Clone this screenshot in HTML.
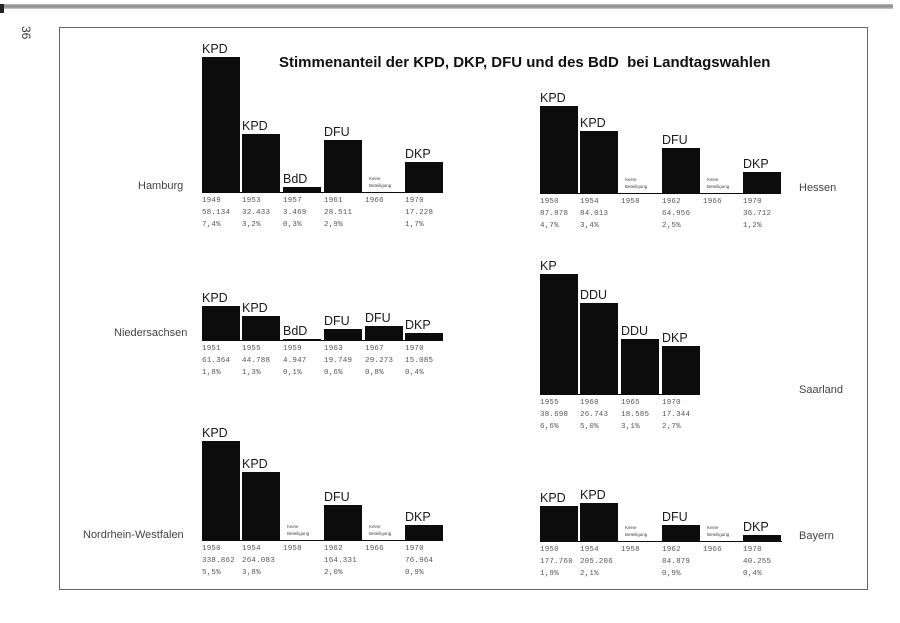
<!DOCTYPE html>
<html><head><meta charset="utf-8">
<style>
html,body{margin:0;padding:0;background:#fff;}
#p{position:relative;width:900px;height:623px;overflow:hidden;background:#fff;font-family:"Liberation Sans",sans-serif;}
.a{position:absolute;white-space:nowrap;}
.b{position:absolute;background:#0c0c0c;}
.l{position:absolute;font-size:12.5px;color:#1a1a1a;line-height:1;}
.d{position:absolute;font-family:"Liberation Mono",monospace;font-size:7.5px;color:#555;line-height:1;letter-spacing:0.2px;}
.k{position:absolute;font-size:4.5px;color:#444;line-height:1.5;}
.s{position:absolute;font-size:11px;color:#444;line-height:1;}
</style></head><body><div id="p">
<div class="a" style="left:0;top:4px;width:893px;height:5px;background:linear-gradient(#bbb,#888,#ccc);"></div>
<div class="a" style="left:0;top:4px;width:4px;height:9px;background:#222;"></div>
<div class="a" style="left:59px;top:27px;width:809px;height:563px;border:1.5px solid #666;box-sizing:border-box;"></div>
<div class="a" style="top:26px;font-size:12px;color:#333;transform:rotate(90deg);transform-origin:left top;left:33px;">36</div>
<div class="a" style="left:279px;top:54px;font-size:15px;font-weight:bold;color:#111;">Stimmenanteil der KPD, DKP, DFU und des BdD&nbsp; bei Landtagswahlen</div>
</div>
<script>
var P=document.getElementById('p');
function el(c,x,y,t,st){var e=document.createElement('div');e.className=c;e.style.left=x+'px';e.style.top=y+'px';if(st)e.style.cssText+=st;e.innerHTML=t;P.appendChild(e);return e;}
function chart(xs,base,bars,lbl){
 bars.forEach(function(b,i){
  var x=xs[i];
  if(b[1]===null){el('k',x+4,base-17,'Keine<br>Beteiligung');}
  else{var e=el('b',x,b[1],'');e.style.width='38px';e.style.height=(base-b[1])+'px';
   el('l',x,b[1]-14,b[0]);}
  el('d',x,base+5,b[2]);
  if(b[3])el('d',x,base+17,b[3]);
  if(b[4])el('d',x,base+29,b[4]);
 });
 el('s',lbl[0],lbl[1],lbl[2]);
}
var L=[202,242,283,324,365,405],R=[540,580,621,662,703,743];
chart(L,193,[['KPD',57,'1949','58.134','7,4%'],['KPD',134,'1953','32.433','3,2%'],['BdD',187,'1957','3.469','0,3%'],['DFU',140,'1961','28.511','2,9%'],['',null,'1966'],['DKP',162,'1970','17.228','1,7%']],[138,181,'Hamburg']);
chart(R,194,[['KPD',106,'1950','87.878','4,7%'],['KPD',131,'1954','84.013','3,4%'],['',null,'1958'],['DFU',148,'1962','64.956','2,5%'],['',null,'1966'],['DKP',172,'1970','36.712','1,2%']],[799,183,'Hessen']);
chart(L,341,[['KPD',306,'1951','61.364','1,8%'],['KPD',316,'1955','44.788','1,3%'],['BdD',339,'1959','4.947','0,1%'],['DFU',329,'1963','19.749','0,6%'],['DFU',326,'1967','29.273','0,8%'],['DKP',333,'1970','15.085','0,4%']],[114,328,'Niedersachsen']);
chart(R,395,[['KP',274,'1955','38.698','6,6%'],['DDU',303,'1960','26.743','5,0%'],['DDU',339,'1965','18.585','3,1%'],['DKP',346,'1970','17.344','2,7%']],[799,385,'Saarland']);
chart(L,541,[['KPD',441,'1950','338.862','5,5%'],['KPD',472,'1954','264.083','3,8%'],['',null,'1958'],['DFU',505,'1962','164.331','2,0%'],['',null,'1966'],['DKP',525,'1970','76.964','0,9%']],[83,530,'Nordrhein-Westfalen']);
chart(R,542,[['KPD',506,'1950','177.760','1,9%'],['KPD',503,'1954','205.206','2,1%'],['',null,'1958'],['DFU',525,'1962','84.879','0,9%'],['',null,'1966'],['DKP',535,'1970','40.255','0,4%']],[799,531,'Bayern']);
[[202,443,193],[540,781,194],[202,443,341],[540,700,395],[202,443,541],[540,782,542]].forEach(function(a){var e=el('b',a[0],a[2]-1,'');e.style.width=(a[1]-a[0])+'px';e.style.height='1px';});
</script>
</body></html>
